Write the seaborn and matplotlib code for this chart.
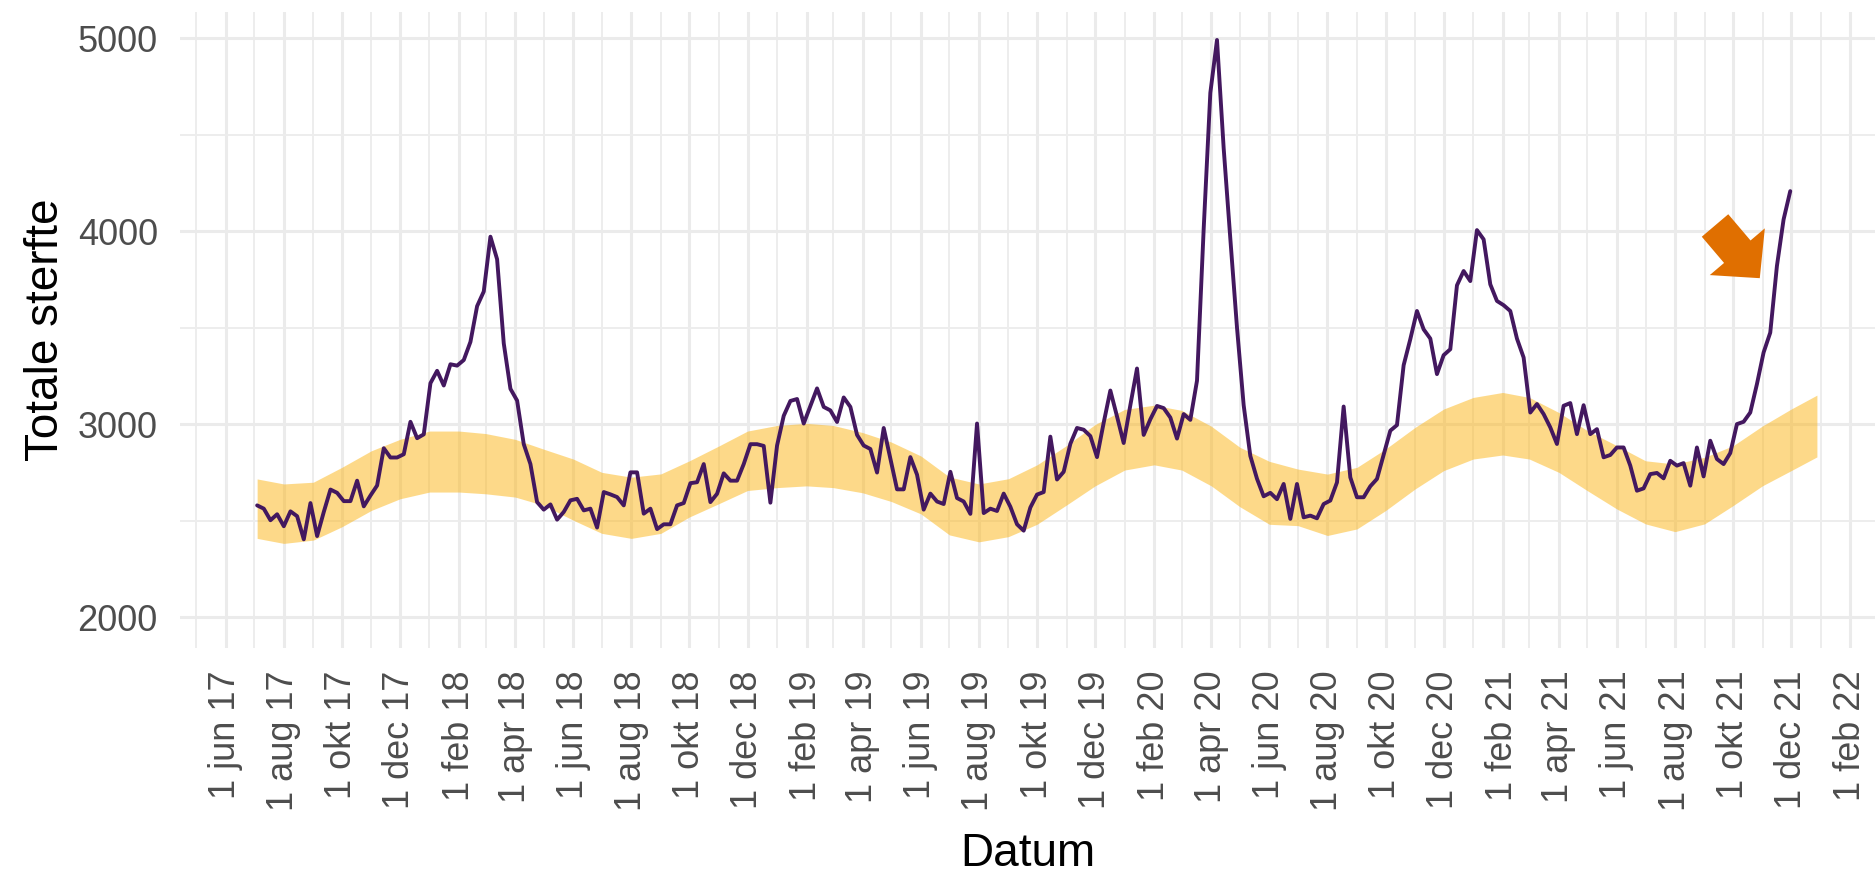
import pandas as pd
import numpy as np
import seaborn as sns
import matplotlib.pyplot as plt
import matplotlib.dates as mdates

# -----------------------------
# Data
# -----------------------------
start_week = "2017-07-04"
deaths = [
    2579, 2562, 2502, 2533, 2471, 2548, 2523, 2403, 2591, 2420,
    2545, 2661, 2644, 2601, 2601, 2707, 2574, 2630, 2682, 2875,
    2827, 2827, 2844, 3012, 2927, 2947, 3212, 3276, 3200, 3310,
    3303, 3332, 3426, 3611, 3687, 3971, 3854, 3418, 3183, 3122,
    2896, 2793, 2596, 2557, 2584, 2505, 2545, 2605, 2613, 2553,
    2562, 2464, 2648, 2636, 2622, 2579, 2750, 2750, 2536, 2562,
    2456, 2481, 2481, 2579, 2591, 2694, 2699, 2793, 2596, 2639,
    2745, 2707, 2707, 2793, 2896, 2896, 2887, 2593, 2889, 3043,
    3120, 3130, 3003, 3094, 3185, 3089, 3071, 3011, 3138, 3089,
    2944, 2889, 2871, 2749, 2980, 2822, 2662, 2662, 2829, 2738,
    2557, 2640, 2599, 2586, 2753, 2617, 2599, 2535, 3003, 2539,
    2562, 2550, 2640, 2572, 2481, 2448, 2568, 2635, 2648, 2935,
    2713, 2753, 2898, 2980, 2971, 2938, 2829, 3007, 3174, 3040,
    2902, 3098, 3288, 2944, 3025, 3094, 3083, 3034, 2925, 3052,
    3022, 3225, 4010, 4716, 4990, 4430, 3960, 3500, 3098, 2835,
    2717, 2626, 2644, 2611, 2690, 2509, 2690, 2517, 2526, 2512,
    2586, 2604, 2698, 3091, 2724, 2621, 2621, 2678, 2716, 2840,
    2966, 2995, 3305, 3440, 3586, 3491, 3443, 3259, 3357, 3388,
    3719, 3793, 3741, 4005, 3957, 3724, 3638, 3616, 3586, 3443,
    3345, 3060, 3104, 3052, 2983, 2897, 3095, 3109, 2948, 3098,
    2948, 2974, 2828, 2840, 2879, 2879, 2785, 2655, 2667, 2741,
    2747, 2719, 2810, 2785, 2798, 2681, 2879, 2729, 2914, 2819,
    2793, 2850, 3000, 3012, 3060, 3207, 3371, 3474, 3819, 4060, 4207,
]

band_dates = ["2017-07-04"] + [d.strftime("%Y-%m-%d") for d in
                              pd.date_range("2017-08-01", "2021-12-01", freq="MS")] + ["2021-12-28"]
band_low = [
    2408, 2382, 2399, 2468, 2553, 2613, 2648, 2648, 2639, 2622, 2579, 2502,
    2434, 2408, 2434, 2519, 2588, 2656, 2671, 2680, 2671, 2644, 2599, 2535,
    2426, 2390, 2417, 2481, 2581, 2680, 2762, 2789, 2762, 2680, 2572, 2481,
    2474, 2423, 2457, 2552, 2664, 2759, 2819, 2840, 2819, 2750, 2655, 2560,
    2483, 2443, 2483, 2578, 2681, 2759, 2830,
]
band_high = [
    2716, 2690, 2699, 2776, 2862, 2921, 2964, 2964, 2951, 2921, 2870, 2819,
    2750, 2725, 2742, 2810, 2887, 2964, 2993, 3004, 2993, 2956, 2907, 2835,
    2726, 2690, 2717, 2789, 2889, 2998, 3076, 3098, 3071, 2989, 2880, 2807,
    2767, 2741, 2776, 2871, 2983, 3078, 3138, 3164, 3138, 3060, 2966, 2888,
    2810, 2793, 2828, 2888, 2991, 3078, 3150,
]

tick_labels = [
    "1 jun 17", "1 aug 17", "1 okt 17", "1 dec 17", "1 feb 18", "1 apr 18",
    "1 jun 18", "1 aug 18", "1 okt 18", "1 dec 18", "1 feb 19", "1 apr 19",
    "1 jun 19", "1 aug 19", "1 okt 19", "1 dec 19", "1 feb 20", "1 apr 20",
    "1 jun 20", "1 aug 20", "1 okt 20", "1 dec 20", "1 feb 21", "1 apr 21",
    "1 jun 21", "1 aug 21", "1 okt 21", "1 dec 21", "1 feb 22",
]

df = pd.DataFrame({
    "Datum": pd.date_range(start_week, periods=len(deaths), freq="7D"),
    "sterfte": deaths,
})
band = pd.DataFrame({
    "Datum": pd.to_datetime(band_dates),
    "onder": band_low,
    "boven": band_high,
})

# -----------------------------
# Plot
# -----------------------------
sns.set_style("white")
plt.rcParams["font.family"] = ["Liberation Sans", "DejaVu Sans"]

fig = plt.figure(figsize=(18.75, 8.75), dpi=100)
ax = fig.add_axes([0.096, 0.2594, 0.904, 0.7269])

ax.fill_between(band["Datum"], band["onder"], band["boven"],
                color="#FCB514", alpha=0.5, lw=0, zorder=2)
sns.lineplot(data=df, x="Datum", y="sterfte", color="#43185F",
             lw=2.8, ax=ax, zorder=3)

major = pd.date_range("2017-06-01", periods=len(tick_labels), freq="2MS")
minor = pd.date_range("2017-05-01", "2022-01-01", freq="2MS")
ax.set_xticks(mdates.date2num(major))
ax.set_xticklabels(tick_labels, rotation=90)
ax.set_xticks(mdates.date2num(minor), minor=True)
ax.set_yticks([2000, 3000, 4000, 5000])
ax.set_yticks([2500, 3500, 4500], minor=True)

ax.set_xlim(mdates.date2num(pd.Timestamp("2017-04-14")),
            mdates.date2num(pd.Timestamp("2022-02-27")))
ax.set_ylim(1840, 5135)

ax.grid(which="major", color="#EBEBEB", lw=2.2, zorder=0)
ax.grid(which="minor", color="#EDEDED", lw=1.4, zorder=0)
ax.set_axisbelow(True)
for s in ax.spines.values():
    s.set_visible(False)

ax.tick_params(axis="both", which="both", length=0, labelsize=26,
               labelcolor="#4D4D4D")
ax.tick_params(axis="x", pad=16)
ax.tick_params(axis="y", pad=16)

ax.set_xlabel("Datum", fontsize=33, color="black")
ax.set_ylabel("Totale sterfte", fontsize=33, color="black")
ax.xaxis.set_label_coords(0.5, -0.29)
ax.yaxis.set_label_coords(-0.066, 0.5)

# orange arrow pointing at the latest rise
ax.annotate("", xy=(mdates.date2num(pd.Timestamp("2021-10-29")), 3756),
            xytext=(mdates.date2num(pd.Timestamp("2021-09-12")), 4029),
            arrowprops=dict(arrowstyle="simple,head_length=0.5,head_width=1.04,tail_width=0.5",
                            color="#E06F00", mutation_scale=50, shrinkA=0, shrinkB=0, lw=0),
            zorder=4)

fig.savefig("out.png", dpi=100)
plt.close(fig)
